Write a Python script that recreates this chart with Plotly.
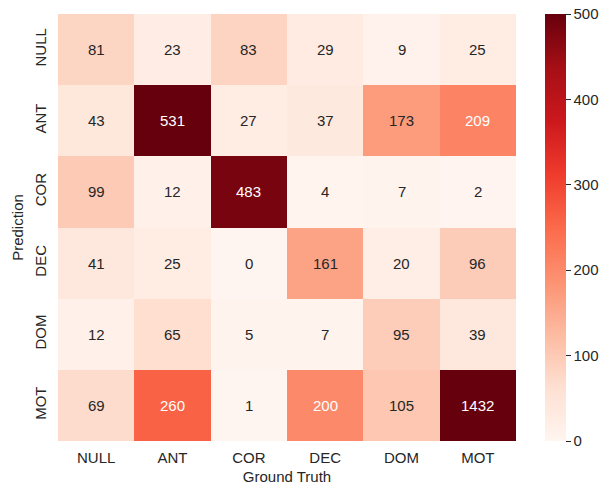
import plotly.graph_objects as go

labels = ["NULL", "ANT", "COR", "DEC", "DOM", "MOT"]
values = [
    [81, 23, 83, 29, 9, 25],
    [43, 531, 27, 37, 173, 209],
    [99, 12, 483, 4, 7, 2],
    [41, 25, 0, 161, 20, 96],
    [12, 65, 5, 7, 95, 39],
    [69, 260, 1, 200, 105, 1432],
]
cbar_ticks = [0, 100, 200, 300, 400, 500]

reds = [
    [0.0, "#fff5f0"], [0.125, "#fee0d2"], [0.25, "#fcbba1"], [0.375, "#fc9272"],
    [0.5, "#fb6a4a"], [0.625, "#ef3b2c"], [0.75, "#cb181d"], [0.875, "#a50f15"],
    [1.0, "#67000d"],
]

FONT = "Liberation Sans, Arial, sans-serif"
TXT = "#262626"

fig = go.Figure(go.Heatmap(
    z=values, x=labels, y=labels, zmin=0, zmax=500, colorscale=reds,
    xgap=0, ygap=0, hoverinfo="skip",
    colorbar=dict(
        x=1.063, xanchor="left", y=0.5, yanchor="middle", len=1, lenmode="fraction",
        thickness=21, outlinewidth=0, tickvals=cbar_ticks, ticks="outside",
        ticklen=5, tickwidth=1, tickcolor=TXT, tickprefix=" ",
        tickfont=dict(family=FONT, size=15, color=TXT),
        xpad=0, ypad=0,
    ),
))

annotations = []
for i, row in enumerate(values):
    for j, v in enumerate(row):
        annotations.append(dict(
            x=labels[j], y=labels[i], text=str(v), showarrow=False,
            font=dict(family=FONT, size=15, color="white" if v >= 190 else TXT),
        ))

fig.update_layout(
    width=605, height=486,
    margin=dict(l=58, r=89, t=14, b=45, autoexpand=False),
    paper_bgcolor="white", plot_bgcolor="white",
    font=dict(family=FONT, color=TXT),
    annotations=annotations,
    xaxis=dict(
        title=dict(text="Ground Truth", font=dict(family=FONT, size=15, color=TXT), standoff=6),
        tickfont=dict(family=FONT, size=15, color=TXT), ticks="", showgrid=False,
        zeroline=False, showline=False, ticklabelstandoff=6, automargin=False,
    ),
    yaxis=dict(
        title=dict(text="Prediction", font=dict(family=FONT, size=15, color=TXT), standoff=4),
        tickfont=dict(family=FONT, size=15, color=TXT), ticks="", showgrid=False,
        zeroline=False, showline=False, autorange="reversed", tickangle=-90,
        ticklabelstandoff=8, automargin=False,
    ),
)

fig.write_html("out.html", config={"displayModeBar": False},
               post_script="document.body.style.margin='0';")
